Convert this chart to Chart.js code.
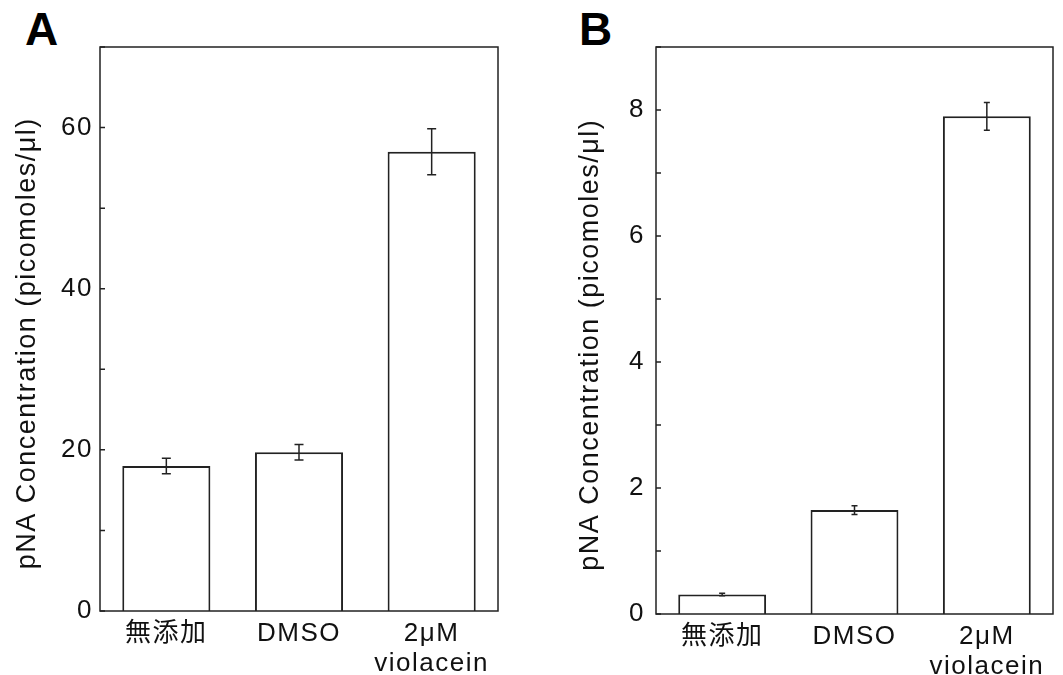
<!DOCTYPE html>
<html>
<head>
<meta charset="utf-8">
<script src="https://cdn.jsdelivr.net/npm/chart.js@4.4.1/dist/chart.umd.min.js"></script>
<style>
  body { margin: 0; background: #fff; }
  .panel { position: absolute; top: 0; height: 675px; }
  .tag { position: absolute; top: 6px; font: bold 46px/46px "Liberation Sans", Arial, sans-serif; color: #000; }
</style>
</head>
<body>
<div class="tag" style="left:25px">A</div>
<div class="tag" style="left:579px">B</div>
<div class="panel" style="left:0; width:520px"><canvas id="chartA"></canvas></div>
<div class="panel" style="left:560px; width:503px"><canvas id="chartB"></canvas></div>
<script>
// Data
const categories = ['無添加', 'DMSO', ['2μM', 'violacein']];
const valuesA = [18.0, 19.7, 57.0];
const errorsA = [0.95, 0.95, 2.85];
const valuesB = [0.31, 1.65, 7.9];
const errorsB = [0.02, 0.07, 0.22];
// trailing em space nudges the centred title down a little, as in the original
const yTitle = 'pNA Concentration (picomoles/μl)\u2003';

const FONT = '"Liberation Sans", Arial, "Noto Sans CJK JP", sans-serif';
const INK = '#222';

// frame box, inward y ticks and error bars
const framePlugin = {
    id: 'frame',
    beforeDraw(chart) {
        chart.ctx.letterSpacing = '1.5px';
    },
    afterDatasetsDraw(chart, args, opts) {
        const { ctx, chartArea: a, scales: { y } } = chart;
        const data = chart.data.datasets[0].data;
        ctx.save();
        ctx.strokeStyle = INK;
        ctx.lineWidth = 1.5;
        ctx.beginPath();
        chart.getDatasetMeta(0).data.forEach((bar, i) => {
            const top = y.getPixelForValue(data[i] + opts.errors[i]);
            const bot = y.getPixelForValue(data[i] - opts.errors[i]);
            ctx.moveTo(bar.x, top); ctx.lineTo(bar.x, bot);
            ctx.moveTo(bar.x - opts.cap, top); ctx.lineTo(bar.x + opts.cap, top);
            ctx.moveTo(bar.x - opts.cap, bot); ctx.lineTo(bar.x + opts.cap, bot);
        });
        y.ticks.forEach(t => {
            const py = y.getPixelForValue(t.value);
            ctx.moveTo(a.left, py); ctx.lineTo(a.left + 5, py);
        });
        ctx.stroke();
        ctx.strokeRect(a.left, a.top, a.right - a.left, a.bottom - a.top);
        ctx.restore();
    }
};

function makeChart(id, values, errors, cfg) {
    return new Chart(document.getElementById(id), {
        type: 'bar',
        data: {
            labels: categories,
            datasets: [{
                data: values,
                backgroundColor: '#fff',
                borderColor: INK,
                borderWidth: 2,
                categoryPercentage: 1,
                barPercentage: 0.664
            }]
        },
        plugins: [framePlugin],
        options: {
            responsive: true,
            maintainAspectRatio: false,
            animation: false,
            layout: { padding: { top: 47, right: cfg.right, bottom: 0, left: 0 } },
            scales: {
                x: {
                    grid: { display: false, drawTicks: false },
                    border: { display: false },
                    ticks: {
                        color: '#111',
                        font: { family: FONT, size: 26, lineHeight: 1.15 },
                        padding: 8,
                        maxRotation: 0
                    },
                    afterFit: s => { s.height = cfg.xHeight; }
                },
                y: {
                    min: 0,
                    max: cfg.max,
                    grid: { display: false, drawTicks: false },
                    border: { display: false },
                    ticks: {
                        stepSize: cfg.step,
                        color: '#111',
                        font: { family: FONT, size: 26 },
                        padding: cfg.tickPad,
                        callback: v => (v % cfg.labelStep === 0 ? v : '')
                    },
                    title: {
                        display: true,
                        text: yTitle,
                        color: '#111',
                        font: { family: FONT, size: 27, lineHeight: 1.2 },
                        padding: { top: cfg.titlePad, bottom: 0 }
                    },
                    afterFit: s => { s.width = cfg.yWidth; }
                }
            },
            plugins: {
                legend: { display: false },
                tooltip: { enabled: false },
                frame: { errors: errors, cap: cfg.cap }
            }
        }
    });
}

makeChart('chartA', valuesA, errorsA, {
    max: 70, step: 10, labelStep: 20,
    yWidth: 100, xHeight: 64, right: 22, tickPad: 7, titlePad: 11, cap: 4.5
});
makeChart('chartB', valuesB, errorsB, {
    max: 9, step: 1, labelStep: 2,
    yWidth: 96, xHeight: 61, right: 10, tickPad: 11, titlePad: 14, cap: 3
});
</script>
</body>
</html>
